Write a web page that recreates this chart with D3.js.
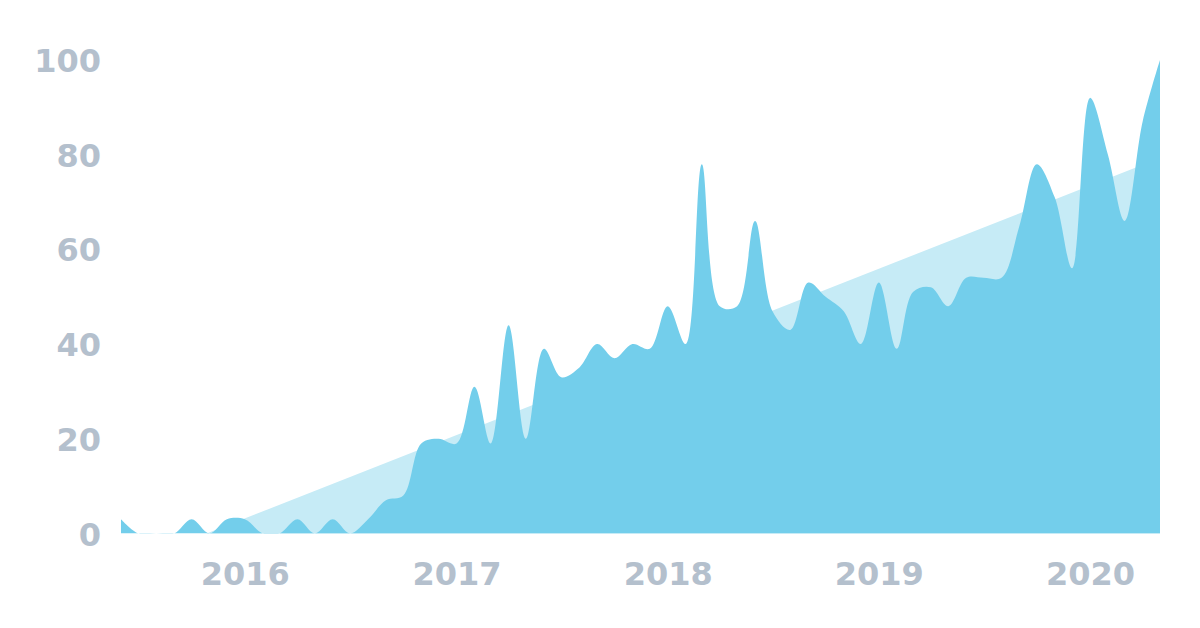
<!DOCTYPE html>
<html>
<head>
<meta charset="utf-8">
<script src="https://cdn.jsdelivr.net/npm/d3@7"></script>
<style>
  body { margin: 0; background: #fff; }
  .axis text { font-family: "DejaVu Sans", sans-serif; font-weight: bold; font-size: 32px; fill: #b4c0cd; }
</style>
</head>
<body>
<script>
// monthly interest, Jun 2015 .. May 2020
const startMonth = '2015-06';
const values = [
  3, 0, 0, 0, 3, 0, 3,                      // 2015 Jun-Dec
  3, 0, 0, 3, 0, 3, 0, 3, 7, 8, 19, 20,     // 2016
  19, 31, 19, 44, 20, 39, 33, 35, 40, 37, 40, 39, // 2017
  48, 40, 78, 48, 48, 66, 47, 43, 53, 50, 47, 40, // 2018
  53, 39, 51, 52, 48, 54, 54, 54, 65, 78, 71, 56, // 2019
  92, 80, 66, 87, 100                       // 2020 Jan-May
];
// linear trend, clipped where it crosses zero
const trendDates = ['2015-10-27', '2020-05-01'];
const trendValues = [0, 79.3];
const yTicks = [0, 20, 40, 60, 80, 100];

const width = 1200, height = 628;
const parseMonth = d3.timeParse('%Y-%m');
const parseDay = d3.timeParse('%Y-%m-%d');

let data = values.map(function(v, i) {
  return { date: d3.timeMonth.offset(parseMonth(startMonth), i), value: v };
});
let trend = trendDates.map(function(d, i) {
  return { date: parseDay(d), value: trendValues[i] };
});

let svg = d3.select('body').append('svg')
  .attr('width', width)
  .attr('height', height);

let x = d3.scaleTime()
  .domain(d3.extent(data, d => d.date))
  .range([121, 1160]);

let y = d3.scaleLinear()
  .domain([0, 100])
  .range([533.5, 60]);

//keep the smoothed curve from dipping under the baseline
svg.append('clipPath')
  .attr('id', 'plot-clip')
  .append('rect')
  .attr('x', x.range()[0])
  .attr('y', 0)
  .attr('width', x.range()[1] - x.range()[0])
  .attr('height', y(0));

let area = d3.area()
  .x(d => x(d.date))
  .y0(y(0))
  .y1(d => y(d.value));

svg.append('path')   //light trend wedge behind the data
  .datum(trend)
  .attr('fill', '#c6ebf6')
  .attr('d', area);

svg.append('path')
  .datum(data)
  .attr('fill', '#73ceeb')
  .attr('clip-path', 'url(#plot-clip)')
  .attr('d', area.curve(d3.curveCatmullRom));

let yAxis = svg.append('g')
  .attr('class', 'axis')
  .attr('transform', 'translate(101,0)')
  .call(d3.axisLeft(y).tickValues(yTicks).tickSize(0).tickPadding(0));
yAxis.select('.domain').remove();
yAxis.selectAll('text').attr('dy', '0.36em');

let xAxis = svg.append('g')
  .attr('class', 'axis')
  .attr('transform', 'translate(0,' + y(0) + ')')
  .call(d3.axisBottom(x).ticks(d3.timeYear.every(1)).tickFormat(d3.timeFormat('%Y')).tickSize(0));
xAxis.select('.domain').remove();
xAxis.selectAll('text').attr('y', 51.5).attr('dy', 0);
</script>
</body>
</html>
